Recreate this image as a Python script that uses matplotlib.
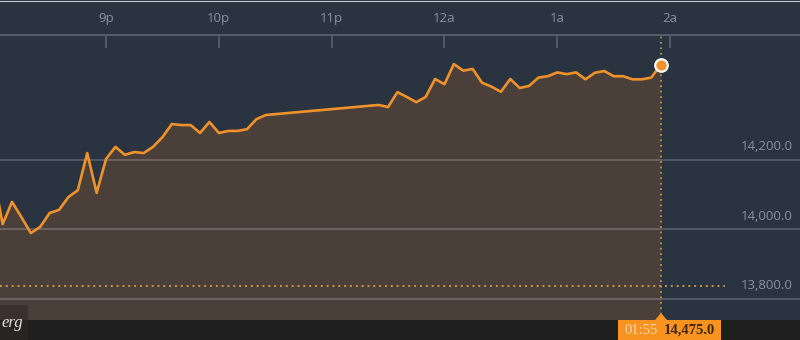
import matplotlib
matplotlib.use("Agg")
import matplotlib.pyplot as plt
from matplotlib.patches import Rectangle, Polygon
from matplotlib.lines import Line2D

# ---------------- data ----------------
times = ["20:00", "20:05", "20:10", "20:15", "20:20", "20:25", "20:30", "20:35",
         "20:40", "20:45", "20:50", "20:55", "21:00", "21:05", "21:10", "21:15",
         "21:20", "21:25", "21:30", "21:35", "21:40", "21:45", "21:50", "21:55",
         "22:00", "22:05", "22:10", "22:15", "22:20", "22:25", "23:25", "23:30",
         "23:35", "23:40", "23:45", "23:50", "23:55", "00:00", "00:05", "00:10",
         "00:15", "00:20", "00:25", "00:30", "00:35", "00:40", "00:45", "00:50",
         "00:55", "01:00", "01:05", "01:10", "01:15", "01:20", "01:25", "01:30",
         "01:35", "01:40", "01:45", "01:50", "01:55"]
values = [14160, 14015, 14079, 14035, 13989, 14007, 14047, 14056,
          14093, 14113, 14220, 14105, 14203, 14238, 14215, 14223,
          14220, 14238, 14266, 14304, 14301, 14301, 14278, 14310,
          14278, 14284, 14284, 14289, 14318, 14330, 14359, 14353,
          14396, 14382, 14367, 14382, 14434, 14419, 14477, 14458,
          14463, 14423, 14412, 14397, 14434, 14408, 14414, 14438,
          14442, 14453, 14448, 14453, 14433, 14452, 14457, 14442,
          14442, 14433, 14433, 14438, 14475.0]
prev_close = 13835
grid_values = [13800, 14000, 14200]
hour_ticks = ["21:00", "22:00", "23:00", "00:00", "01:00", "02:00"]
hour_labels = ["9p", "10p", "11p", "12a", "1a", "2a"]


def to_min(t):
    h, m = map(int, t.split(":"))
    if h < 12:
        h += 24
    return (h - 20) * 60 + m


x = [to_min(t) for t in times]

# ---------------- style ----------------
NAVY = "#2a3340"
BROWN = "#4a4039"
ORANGE = "#f0922b"
AXIS_C = "#58626e"
LABEL_C = "#8a929c"

W, H = 800, 340
fig = plt.figure(figsize=(8, 3.4), dpi=100)
fig.patch.set_facecolor(NAVY)

ax = fig.add_axes([0, 20 / H, 1, (320 - 35) / H])
ax.set_facecolor(NAVY)
ax.set_xlim(3.6, 429.1)
ax.set_ylim(13738, 14561)

ax.fill_between(x, values, 13738, color=BROWN, lw=0, zorder=1)
for v in grid_values:
    ax.axhline(v, color="white", alpha=0.2, lw=1.3, zorder=2)
    ax.annotate(f"{v:,.1f}", xy=(1, v), xycoords=("axes fraction", "data"),
                xytext=(-5, 9.4), textcoords="offset points", ha="right",
                va="center", color=LABEL_C, fontsize=9.5, family="Open Sans")

ax.axhline(prev_close, xmin=0, xmax=725 / W, color="#c9964a", lw=1.4,
           ls=(0, (1, 2)), zorder=3)
ax.axvline(x[-1], color="#b8914f", lw=1.3, ls=(0, (1, 2)), zorder=3)

ax.plot(x, values, color=ORANGE, lw=1.9, zorder=4, solid_joinstyle="round")
ax.plot(x[-1], values[-1], "o", ms=9, mfc=ORANGE, mec="white", mew=1.6,
        zorder=6, clip_on=False)

for s in ["left", "right", "bottom"]:
    ax.spines[s].set_visible(False)
ax.spines["top"].set_color(AXIS_C)
ax.spines["top"].set_linewidth(1.3)
ax.set_yticks([])
ax.xaxis.tick_top()
ax.set_xticks([to_min(t) for t in hour_ticks])
ax.set_xticklabels(hour_labels, family="Open Sans")
ax.tick_params(axis="x", direction="in", length=9, width=1.2, color=AXIS_C,
               labelcolor=LABEL_C, labelsize=9.5, pad=7)

# bottom strip
fig.add_artist(Rectangle((0, 0), 1, 20 / H, transform=fig.transFigure,
                         facecolor="#1f1f20", edgecolor="none", zorder=10))
fig.add_artist(Rectangle((0, 20 / H), 28 / W, 15 / H, transform=fig.transFigure,
                         facecolor="#3a312c", edgecolor="none", zorder=10))
fig.add_artist(Rectangle((0, 0), 28 / W, 20 / H, transform=fig.transFigure,
                         facecolor="#282422", edgecolor="none", zorder=10))
fig.text(1.5 / W, (340 - 327) / H, "erg", ha="left", va="baseline",
         color="#e6e2de", fontsize=12, style="italic", family="Liberation Serif",
         zorder=11)

# current value label
fig.add_artist(Rectangle((618 / W, 0), (721 - 618) / W, 20 / H,
                         transform=fig.transFigure, facecolor="#f7931e",
                         edgecolor="none", zorder=10))
fig.add_artist(Polygon([(655 / W, 20 / H), (667 / W, 20 / H), (661 / W, 27 / H)],
                       closed=True, transform=fig.transFigure,
                       facecolor="#f7931e", edgecolor="none", zorder=10))
fig.text(641 / W, (340 - 330) / H, times[-1], ha="center", va="center",
         color="#fcd9ae", fontsize=10.5, family="Liberation Serif", zorder=11)
fig.text(689 / W, (340 - 330) / H, f"{values[-1]:,.1f}", ha="center",
         va="center", color="#3d2510", fontsize=10.5, fontweight="bold",
         family="Liberation Serif", zorder=11)

# thin top border
fig.add_artist(Line2D([0, 1], [1 - 0.5 / H, 1 - 0.5 / H], transform=fig.transFigure,
                      color="#c8c8c8", lw=0.8, zorder=12))

fig.savefig("out.png", dpi=100, facecolor=NAVY)
